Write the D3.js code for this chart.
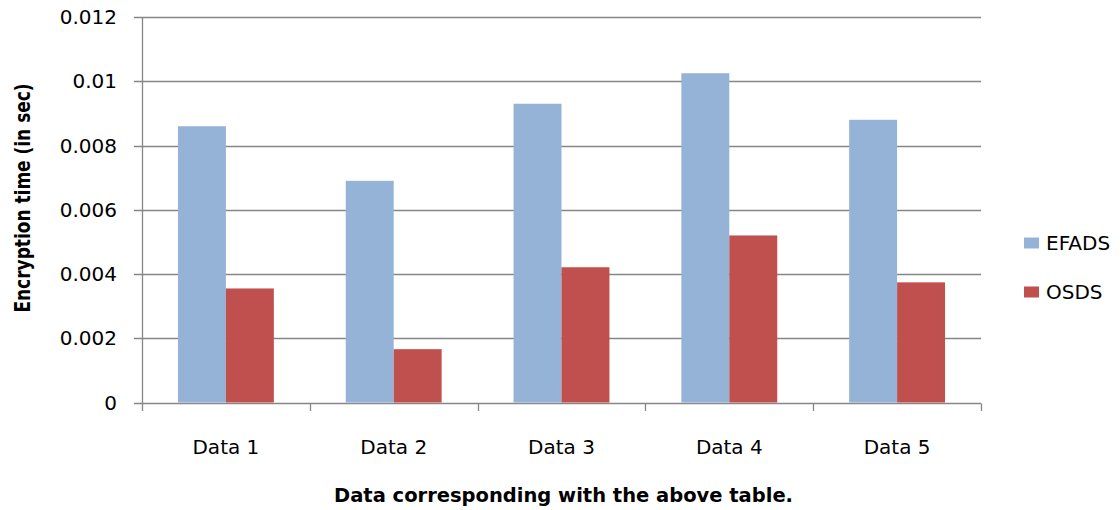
<!DOCTYPE html>
<html>
<head>
<meta charset="utf-8">
<script src="https://cdn.jsdelivr.net/npm/d3@7"></script>
<style>
  body { margin: 0; background: #fff; }
  svg text { font-family: "DejaVu Sans", sans-serif; fill: #000; }
</style>
</head>
<body>
<div id="chart"></div>
<script>
const categories = ["Data 1", "Data 2", "Data 3", "Data 4", "Data 5"];
const seriesNames = ["EFADS", "OSDS"];
const efadsValues = [0.0086, 0.0069, 0.0093, 0.01025, 0.0088];
const osdsValues = [0.00355, 0.00166, 0.00421, 0.0052, 0.00374];
const yTicks = [0, 0.002, 0.004, 0.006, 0.008, 0.01, 0.012];
const colors = ["#95b3d7", "#c0504d"];

const width = 1120, height = 510;
const margin = { left: 142, right: 139, top: 17, bottom: 108 };

const svg = d3.select("#chart").append("svg")
    .attr("width", width)
    .attr("height", height);

const x = d3.scaleBand()
    .domain(categories)
    .range([margin.left, width - margin.right])
    .paddingInner(0)
    .paddingOuter(0);

const y = d3.scaleLinear()
    .domain([0, 0.012])
    .range([height - margin.bottom + 0.5, margin.top]);

// bars within a band: 96px group in 168px band
const x1 = d3.scaleBand()
    .domain(seriesNames)
    .range([0, x.bandwidth()])
    .paddingOuter(0.75)
    .paddingInner(0);

// gridlines
const grid = svg.append("g");
grid.selectAll("line")
    .data(yTicks)
    .enter().append("line")
    .attr("x1", margin.left - 8)
    .attr("x2", width - margin.right)
    .attr("y1", d => Math.round(y(d)) + 0.5)
    .attr("y2", d => Math.round(y(d)) + 0.5)
    .attr("stroke", "#868686")
    .attr("stroke-width", 1.3);

// bars
const data = categories.map((c, i) => ({ cat: c, vals: [efadsValues[i], osdsValues[i]] }));
const groups = svg.append("g").selectAll("g")
    .data(data)
    .enter().append("g")
    .attr("transform", d => `translate(${x(d.cat)},0)`);

groups.selectAll("rect")
    .data(d => d.vals.map((v, i) => ({ key: seriesNames[i], v, i })))
    .enter().append("rect")
    .attr("x", d => x1(d.key))
    .attr("width", x1.bandwidth())
    .attr("y", d => y(d.v))
    .attr("height", d => y(0) - y(d.v))
    .attr("fill", d => colors[d.i]);

// y axis line
svg.append("line")
    .attr("x1", margin.left + 0.5).attr("x2", margin.left + 0.5)
    .attr("y1", margin.top).attr("y2", Math.round(y(0)) + 0.5)
    .attr("stroke", "#868686").attr("stroke-width", 1.3);

// x axis with tick marks at band boundaries
const xTickPos = categories.map(c => x(c)).concat([x.range()[1]]);
svg.append("g").selectAll("line")
    .data(xTickPos)
    .enter().append("line")
    .attr("x1", d => Math.round(d) + 0.5)
    .attr("x2", d => Math.round(d) + 0.5)
    .attr("y1", Math.round(y(0)) + 0.5)
    .attr("y2", Math.round(y(0)) + 8)
    .attr("stroke", "#868686").attr("stroke-width", 1.3);

// y tick labels
svg.append("g").selectAll("text")
    .data(yTicks)
    .enter().append("text")
    .attr("x", margin.left - 25)
    .attr("y", d => y(d))
    .attr("dy", "0.35em")
    .attr("text-anchor", "end")
    .style("font-size", "20px")
    .text(d => d === 0 ? "0" : String(+d.toFixed(3)));

// x tick labels
svg.append("g").selectAll("text")
    .data(categories)
    .enter().append("text")
    .attr("x", d => x(d) + x.bandwidth() / 2)
    .attr("y", 447)
    .attr("dy", "0.35em")
    .attr("text-anchor", "middle")
    .style("font-size", "20px")
    .text(d => d);

// axis titles
svg.append("text")
    .attr("x", (margin.left + width - margin.right) / 2 + 2)
    .attr("y", 495)
    .attr("dy", "0.35em")
    .attr("text-anchor", "middle")
    .style("font-size", "19.5px")
    .style("font-weight", "bold")
    .text("Data corresponding with the above table.");

svg.append("text")
    .attr("transform", "translate(23,198) rotate(-90) scale(1,1.25)")
    .attr("dy", "0.35em")
    .attr("text-anchor", "middle")
    .style("font-size", "17px")
    .style("font-weight", "bold")
    .text("Encryption time (in sec)");

// legend
const legend = svg.append("g").selectAll("g")
    .data(seriesNames)
    .enter().append("g")
    .attr("transform", (d, i) => `translate(1024,${243 + i * 49})`);

legend.append("rect")
    .attr("x", 0).attr("y", -5.5)
    .attr("width", 15).attr("height", 11)
    .attr("fill", (d, i) => colors[i]);

legend.append("text")
    .attr("x", 22)
    .attr("dy", "0.35em")
    .style("font-size", "20px")
    .text(d => d);
</script>
</body>
</html>
